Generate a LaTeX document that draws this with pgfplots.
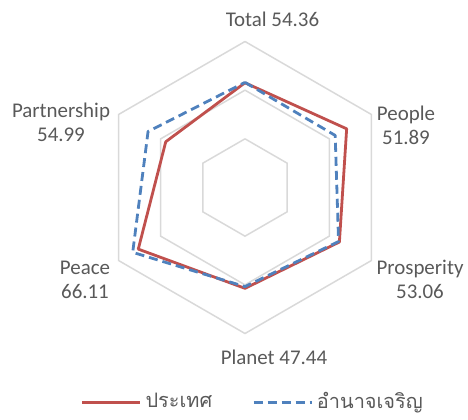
\documentclass[border=0pt]{standalone}
\usepackage{pgfplots}
\pgfplotsset{compat=1.18}
\usepgfplotslibrary{polar}
\usepackage{fontspec}
\setmainfont{Carlito}
\newfontfamily\thaifont[Script=Thai]{Loma}
\definecolor{cred}{HTML}{C0504D}
\definecolor{cblue}{HTML}{4F81BD}
\definecolor{cgrid}{HTML}{D9D9D9}
\definecolor{ctext}{HTML}{595959}
\begin{document}
\begin{tikzpicture}[x=1bp,y=1bp]
\useasboundingbox (-122.5,-116.25) rectangle (111.5,93.75);
\begin{polaraxis}[
  at={(0,0)}, anchor=origin,
  scale only axis, width=146bp, height=146bp,
  xmin=0, xmax=360, ymin=0, ymax=75,
  hide axis,
  clip=false,
  legend style={at={(0.53,-0.235)}, anchor=center, draw=none, fill=none,
    legend columns=2, font=\thaifont\fontsize{10}{12}\selectfont, text=ctext,
    /tikz/every even column/.append style={column sep=18bp}, inner sep=0pt},
  legend image code/.code={\draw[#1] (0bp,0bp) -- (29bp,0bp);},
]
% grid hexagons
\addplot[cgrid, line width=0.75bp, forget plot] coordinates {(90,25)(30,25)(330,25)(270,25)(210,25)(150,25)(90,25)};
\addplot[cgrid, line width=0.75bp, forget plot] coordinates {(90,50)(30,50)(330,50)(270,50)(210,50)(150,50)(90,50)};
\addplot[cgrid, line width=0.75bp, forget plot] coordinates {(90,75)(30,75)(330,75)(270,75)(210,75)(150,75)(90,75)};
% series: Total, People, Prosperity, Planet, Peace, Partnership
\addplot[cred, line width=1.4bp, line join=round] coordinates {(90,53.8)(30,60.3)(330,56.0)(270,51.8)(210,63.3)(150,47.0)(90,53.8)};
\addlegendentry{ประเทศ}
\addplot[cblue, line width=1.4bp, line join=round, dash pattern=on 4.5bp off 2.5bp] coordinates {(90,54.0)(30,53.5)(330,55.5)(270,50.9)(210,66.6)(150,57.5)(90,54.0)};
\addlegendentry{อำนาจเจริญ}
\end{polaraxis}
\begin{scope}[every node/.style={text=ctext, font=\fontsize{10.5}{12}\selectfont, align=center, inner sep=0pt}]
\node at (13.75,84.25) {Total 54.36};
\node at (80.5,31) {People\\51.89};
\node at (87.5,-46) {Prosperity\\53.06};
\node at (14.5,-84.75) {Planet 47.44};
\node at (-80,-46.25) {Peace\\66.11};
\node at (-92,32.5) {Partnership\\54.99};
\end{scope}
\end{tikzpicture}
\end{document}
